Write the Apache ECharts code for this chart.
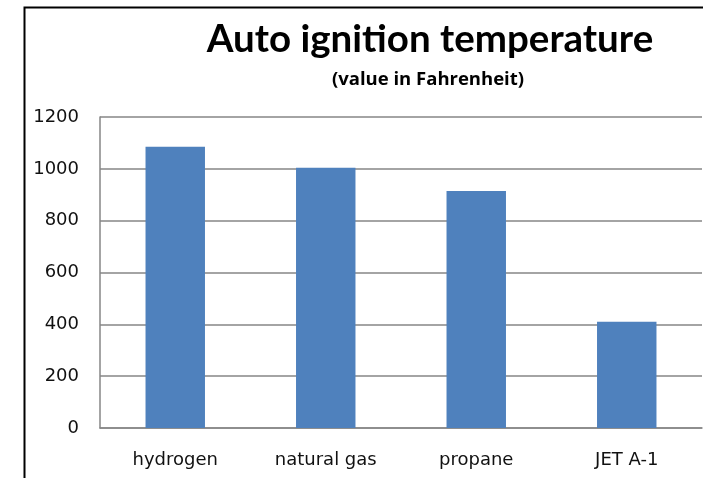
<!DOCTYPE html>
<html><head><meta charset="utf-8">
<script src="https://cdn.jsdelivr.net/npm/echarts@6/dist/echarts.min.js"></script>
<style>html,body{margin:0;padding:0;background:#fff}#c{width:703px;height:478px}</style>
</head><body><div id="c"></div>
<script>
const categories = ['hydrogen', 'natural gas', 'propane', 'JET A-1'];
const temperatures = [1085, 1004, 914, 410];
const yTicks = {min: 0, max: 1200, interval: 200};
const titleText = 'Auto ignition temperature';
const subtitleText = '(value in Fahrenheit)';

const chart = echarts.init(document.getElementById('c'), null, {renderer: 'canvas'});
const LABEL_FONT = '"DejaVu Sans", sans-serif';
chart.setOption({
  animation: false,
  backgroundColor: '#ffffff',
  title: [
    {text: titleText, left: 425, top: 15, textAlign: 'center',
     textStyle: {fontFamily: 'Lato, sans-serif', fontWeight: 'bold', fontSize: 38.5, color: '#000'}},
    {text: subtitleText, left: 423, top: 65, textAlign: 'center',
     textStyle: {fontFamily: '"Open Sans", sans-serif', fontWeight: 'bold', fontSize: 18.5, color: '#000'}}
  ],
  graphic: [
    {type: 'rect', shape: {x: 24.5, y: 7.5, width: 700, height: 490},
     style: {fill: 'none', stroke: '#000', lineWidth: 2}, silent: true}
  ],
  grid: {left: 100, top: 117, right: 1, bottom: 50, containLabel: false},
  xAxis: {
    type: 'category', data: categories,
    axisLine: {show: true, lineStyle: {color: '#868686', width: 1.5}},
    axisTick: {show: false},
    axisLabel: {fontFamily: LABEL_FONT, fontSize: 18, color: '#111', margin: 23}
  },
  yAxis: {
    type: 'value', min: yTicks.min, max: yTicks.max, interval: yTicks.interval,
    axisLine: {show: true, lineStyle: {color: '#868686', width: 1.5}},
    axisTick: {show: false},
    splitLine: {show: true, lineStyle: {color: '#868686', width: 1.5}},
    axisLabel: {fontFamily: LABEL_FONT, fontSize: 18, color: '#111', margin: 21,
                formatter: function (v) { return String(v); }}
  },
  series: [{
    type: 'bar', data: temperatures, barWidth: '39.5%',
    itemStyle: {color: '#4F81BD'}
  }]
});
</script></body></html>
